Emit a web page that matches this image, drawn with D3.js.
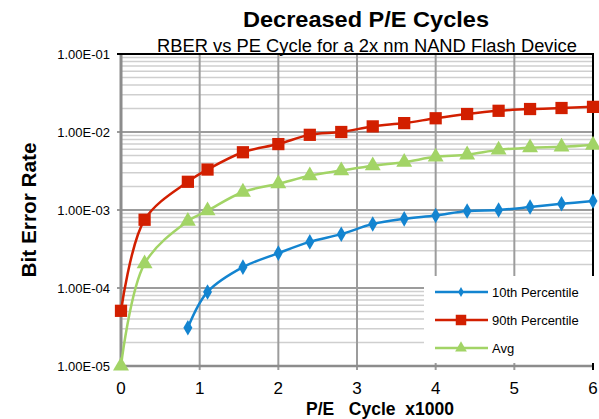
<!DOCTYPE html>
<html>
<head>
<meta charset="UTF-8">
<title>Decreased P/E Cycles</title>
<script src="https://d3js.org/d3.v7.min.js"></script>
<style>
  body { margin: 0; background: #fff; }
  text { font-family: "Liberation Sans", Arial, sans-serif; }
</style>
</head>
<body>
<div id="chart"></div>
<script>
// P/E cycles (x1000) at each measurement
var cycles = [0, 0.3, 0.85, 1.1, 1.55, 2.0, 2.4, 2.8, 3.2, 3.6, 4.0, 4.4, 4.8, 5.2, 5.6, 6.0];

// bit error rate per series (null = no point)
var p10 = [null, null, 3.1e-5, 8.9e-5, 1.85e-4, 2.8e-4, 3.9e-4, 4.9e-4, 6.6e-4, 7.7e-4, 8.5e-4, 9.7e-4, 1.0e-3, 1.09e-3, 1.2e-3, 1.3e-3];
var p90 = [5.1e-5, 7.5e-4, 2.3e-3, 3.3e-3, 5.5e-3, 7.0e-3, 9.2e-3, 1.0e-2, 1.18e-2, 1.3e-2, 1.5e-2, 1.7e-2, 1.87e-2, 1.97e-2, 2.03e-2, 2.1e-2];
var avg = [1.0e-5, 2.05e-4, 7.2e-4, 9.8e-4, 1.7e-3, 2.17e-3, 2.75e-3, 3.2e-3, 3.7e-3, 4.1e-3, 4.8e-3, 5.1e-3, 5.9e-3, 6.3e-3, 6.45e-3, 6.8e-3];

var seriesNames = ["10th Percentile", "90th Percentile", "Avg"];
var xTicks = [0, 1, 2, 3, 4, 5, 6];
var yTicks = [1e-5, 1e-4, 1e-3, 1e-2, 1e-1];

var W = 599, H = 419;
var svg = d3.select("#chart").append("svg")
    .attr("width", W)
    .attr("height", H);

// scales
var x = d3.scaleLinear().domain([0, 6]).range([121, 593]);
var y = d3.scaleLog().domain([1e-5, 1e-1]).range([366, 54]);

// minor horizontal grid (2..9 of each decade)
var minor = [];
yTicks.slice(0, -1).forEach(function(d) {
    for (var k = 2; k <= 9; k++) minor.push(d * k);
});
svg.append("g").selectAll("line").data(minor).enter().append("line")
    .attr("x1", x(0)).attr("x2", x(6))
    .attr("y1", function(d){ return y(d); })
    .attr("y2", function(d){ return y(d); })
    .attr("stroke", "#cfcfcf")
    .attr("stroke-width", 1.5);

// major horizontal grid
svg.append("g").selectAll("line").data(yTicks).enter().append("line")
    .attr("x1", x(0) - 4).attr("x2", x(6))
    .attr("y1", function(d){ return y(d); })
    .attr("y2", function(d){ return y(d); })
    .attr("stroke", "#9c9c9c")
    .attr("stroke-width", 2);

// vertical grid
svg.append("g").selectAll("line").data(xTicks).enter().append("line")
    .attr("x1", function(d){ return x(d); })
    .attr("x2", function(d){ return x(d); })
    .attr("y1", y(1e-1)).attr("y2", y(1e-5) + 4)
    .attr("stroke", "#9c9c9c")
    .attr("stroke-width", 2);

// axis lines
svg.append("line")
    .attr("x1", x(0)).attr("x2", x(0))
    .attr("y1", y(1e-1)).attr("y2", y(1e-5))
    .attr("stroke", "#8c8c8c").attr("stroke-width", 3);
svg.append("line")
    .attr("x1", x(0)).attr("x2", x(6))
    .attr("y1", y(1e-5)).attr("y2", y(1e-5))
    .attr("stroke", "#8c8c8c").attr("stroke-width", 2.5);

// black top and right border
svg.append("line")
    .attr("x1", x(0) - 4).attr("x2", x(6) + 1)
    .attr("y1", y(1e-1)).attr("y2", y(1e-1))
    .attr("stroke", "#000").attr("stroke-width", 2);
svg.append("line")
    .attr("x1", x(6)).attr("x2", x(6))
    .attr("y1", y(1e-1)).attr("y2", y(1e-5) + 4)
    .attr("stroke", "#000").attr("stroke-width", 2);

// y tick labels
svg.append("g").selectAll("text").data(yTicks).enter().append("text")
    .attr("x", 110)
    .attr("y", function(d){ return y(d) + 4.5; })
    .attr("text-anchor", "end")
    .attr("font-size", 13)
    .text(function(d){ return d.toExponential(2).toUpperCase().replace(/E([+-])(\d)$/, "E$10$2"); });

// x tick labels
svg.append("g").selectAll("text").data(xTicks).enter().append("text")
    .attr("x", function(d){ return x(d); })
    .attr("y", 394)
    .attr("text-anchor", "middle")
    .attr("font-size", 17)
    .text(function(d){ return d; });

// titles
svg.append("text")
    .attr("x", 366).attr("y", 27)
    .attr("text-anchor", "middle")
    .attr("font-size", 21.5).attr("font-weight", "bold")
    .attr("textLength", 246).attr("lengthAdjust", "spacingAndGlyphs")
    .text("Decreased P/E Cycles");
svg.append("text")
    .attr("x", 367).attr("y", 52)
    .attr("text-anchor", "middle")
    .attr("font-size", 17.5)
    .attr("textLength", 420).attr("lengthAdjust", "spacingAndGlyphs")
    .text("RBER vs PE Cycle for a 2x nm NAND Flash Device");
svg.append("text")
    .attr("x", 380).attr("y", 415)
    .attr("text-anchor", "middle")
    .attr("font-size", 17.5).attr("font-weight", "bold")
    .style("white-space", "pre")
    .text("P/E   Cycle  x1000");
svg.append("text")
    .attr("transform", "translate(36,210) rotate(-90)")
    .attr("text-anchor", "middle")
    .attr("font-size", 21).attr("font-weight", "bold")
    .attr("textLength", 135).attr("lengthAdjust", "spacingAndGlyphs")
    .text("Bit Error Rate");

// series
var colors = ["#1384d0", "#d21f00", "#a2d466"];
var shapes = [d3.symbolDiamond, d3.symbolSquare, d3.symbolTriangle];
var sizes = [70, 150, 110];
var all = [p10, p90, avg];

var line = d3.line()
    .defined(function(d){ return d.v != null; })
    .x(function(d){ return x(d.c); })
    .y(function(d){ return y(d.v); })
    .curve(d3.curveCatmullRom.alpha(0.5));

all.forEach(function(vals, i) {
    var pts = cycles.map(function(c, j){ return {c: c, v: vals[j]}; })
        .filter(function(d){ return d.v != null; });
    svg.append("path")
        .datum(pts)
        .attr("d", line)
        .attr("fill", "none")
        .attr("stroke", colors[i])
        .attr("stroke-width", 2.5);
    svg.append("g").selectAll("path").data(pts).enter().append("path")
        .attr("transform", function(d){ return "translate(" + x(d.c) + "," + y(d.v) + ")"; })
        .attr("d", d3.symbol().type(shapes[i]).size(sizes[i]))
        .attr("fill", colors[i]);
});

// legend
var leg = svg.append("g");
leg.append("rect")
    .attr("x", 424).attr("y", 276)
    .attr("width", 175).attr("height", 87)
    .attr("fill", "#fff");
var legSizes = [28, 110, 60];
seriesNames.forEach(function(name, i) {
    var ly = 292 + i * 28;
    leg.append("line")
        .attr("x1", 435).attr("x2", 488)
        .attr("y1", ly).attr("y2", ly)
        .attr("stroke", colors[i]).attr("stroke-width", 2.5);
    leg.append("path")
        .attr("transform", "translate(461," + ly + ")")
        .attr("d", d3.symbol().type(shapes[i]).size(legSizes[i]))
        .attr("fill", colors[i]);
    leg.append("text")
        .attr("x", 492).attr("y", ly + 4.5)
        .attr("font-size", 13)
        .text(name);
});
</script>
</body>
</html>
